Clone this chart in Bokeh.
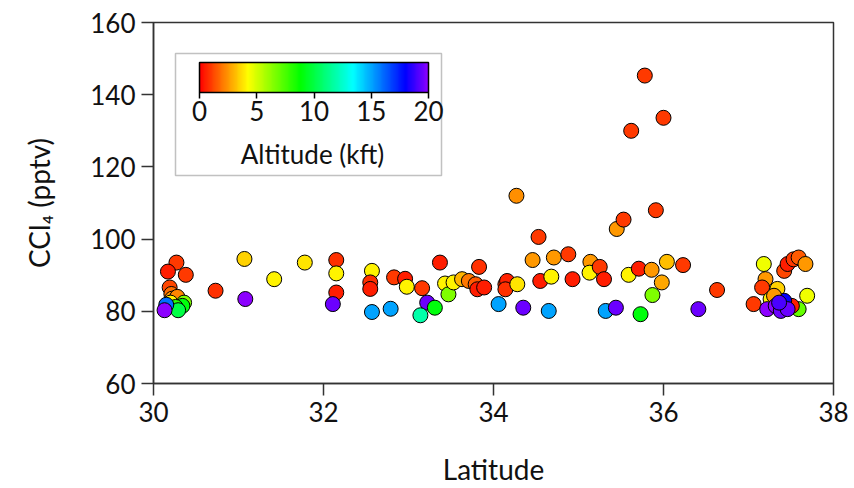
import numpy as np
from bokeh.plotting import figure
from bokeh.models import (ColumnDataSource, LinearColorMapper, ColorBar, FixedTicker,
                          BoxAnnotation, Label, Range1d)
from bokeh.embed import file_html
from bokeh.resources import INLINE

# ---------------- data ----------------
latitude = [
    30.27, 30.17, 30.38, 30.19, 30.21, 30.22, 30.28, 30.20, 30.36, 30.34, 30.26, 30.29, 30.15, 30.13,
    30.73, 31.07, 31.08, 31.42, 31.78, 32.15, 32.15, 32.15, 32.11, 32.57, 32.55, 32.55, 32.57, 32.79,
    32.83, 32.96, 32.98, 33.16, 33.22, 33.14, 33.31, 33.37, 33.43, 33.47, 33.53, 33.63, 33.71, 33.83,
    33.79, 33.81, 33.89, 34.14, 34.16, 34.14, 34.28, 34.06, 34.27, 34.35, 34.53, 34.46, 34.55, 34.65,
    34.68, 34.71, 34.88, 34.93, 35.14, 35.13, 35.25, 35.30, 35.32, 35.44, 35.45, 35.53, 35.59, 35.71,
    35.62, 35.78, 36.00, 35.91, 35.86, 36.04, 35.98, 35.87, 35.73, 36.23, 36.41, 36.63,
    37.18, 37.20, 37.16, 37.34, 37.06, 37.42, 37.46, 37.53, 37.59, 37.67, 37.69, 37.59, 37.51, 37.42,
    37.26, 37.30, 37.22, 37.32, 37.38, 37.46, 37.36,
]
ccl4 = [
    93.5, 91.0, 90.1, 86.6, 84.8, 83.5, 84.0, 82.4, 82.4, 81.5, 81.2, 80.3, 81.8, 80.3,
    85.7, 94.5, 83.4, 88.9, 93.5, 94.2, 90.5, 85.2, 82.0, 91.2, 88.0, 86.2, 79.8, 80.7,
    89.4, 89.0, 86.8, 86.4, 82.4, 78.9, 81.0, 93.5, 87.7, 84.7, 88.0, 88.9, 88.4, 92.3,
    87.5, 86.1, 86.6, 87.5, 88.4, 86.1, 87.5, 82.0, 112.0, 81.0, 100.6, 94.2, 88.4, 80.1,
    89.6, 94.9, 95.8, 88.9, 93.7, 90.7, 92.3, 88.9, 80.1, 81.0, 102.8, 105.4, 90.1, 91.8,
    130.0, 145.3, 133.6, 108.0, 91.5, 93.7, 88.0, 84.5, 79.2, 92.8, 80.6, 85.9,
    93.1, 88.9, 86.6, 86.2, 82.0, 91.2, 93.1, 94.4, 94.9, 93.1, 84.3, 80.6, 81.5, 82.9,
    83.4, 84.3, 80.6, 81.5, 80.1, 80.6, 82.4,
]
altitude = [
    1.0, 0.5, 1.0, 1.2, 1.8, 2.5, 2.2, 4.0, 6.5, 9.0, 8.0, 10.0, 16.0, 20.0,
    0.8, 3.5, 20.0, 4.0, 3.8, 0.8, 4.0, 0.5, 19.5, 4.0, 0.8, 0.5, 15.0, 15.0,
    1.0, 0.5, 4.0, 1.0, 19.5, 11.8, 9.0, 0.5, 4.0, 6.5, 4.0, 3.0, 2.0, 0.8,
    1.5, 0.5, 0.5, 1.0, 0.6, 0.8, 3.8, 15.0, 2.4, 19.5, 1.0, 2.5, 0.5, 15.0,
    4.0, 2.5, 1.0, 0.5, 2.5, 4.0, 1.0, 0.5, 15.0, 19.5, 2.5, 1.0, 4.0, 0.5,
    1.0, 1.0, 1.0, 1.0, 2.5, 3.2, 2.8, 6.5, 9.0, 1.0, 19.5, 1.0,
    4.5, 2.5, 1.0, 3.5, 1.0, 1.2, 0.5, 1.0, 1.5, 2.5, 4.5, 7.0, 0.5, 18.0,
    4.0, 2.5, 20.0, 20.0, 19.5, 19.5, 19.0,
]

x_ticks = [30, 32, 34, 36, 38]
y_ticks = [60, 80, 100, 120, 140, 160]
alt_ticks = [0, 5, 10, 15, 20]

# ---------------- rainbow palette (red -> yellow -> green -> cyan -> blue -> violet) ----------------
anchor_pos = [0.0, 0.21, 0.44, 0.67, 0.90, 1.0]
anchor_rgb = [(255, 0, 0), (255, 255, 0), (0, 255, 0), (0, 255, 255), (0, 0, 255), (140, 0, 255)]
t = np.linspace(0, 1, 256)
chan = [np.interp(t, anchor_pos, [c[i] for c in anchor_rgb]) for i in range(3)]
palette = ["#%02x%02x%02x" % (int(round(r)), int(round(g)), int(round(b)))
           for r, g, b in zip(*chan)]

FONT = "Lato"
TXT = "#111111"
LINE = "#333333"

mapper = LinearColorMapper(palette=palette, low=0, high=20)
src = ColumnDataSource(dict(lat=latitude, ccl4=ccl4, alt=altitude))

p = figure(width=854, height=488, x_range=Range1d(30, 38), y_range=Range1d(60, 160),
           output_backend="svg", toolbar_location=None,
           min_border_left=153, min_border_right=21, min_border_top=22, min_border_bottom=105)
p.xgrid.visible = False
p.ygrid.visible = False
p.outline_line_color = LINE
p.outline_line_width = 1.5
p.background_fill_color = "white"
p.border_fill_color = "white"

p.xaxis.ticker = FixedTicker(ticks=x_ticks)
p.yaxis.ticker = FixedTicker(ticks=y_ticks)
p.xaxis.axis_label = "Latitude"
p.yaxis.axis_label = "CCl\u2084 (pptv)"
for ax in (p.xaxis[0], p.yaxis[0]):
    ax.major_tick_out = 12
    ax.major_tick_in = 0
    ax.minor_tick_line_color = None
    ax.axis_line_color = LINE
    ax.axis_line_width = 1.5
    ax.major_tick_line_color = LINE
    ax.major_tick_line_width = 1.5
    ax.major_label_text_font = FONT
    ax.major_label_text_font_size = "26px"
    ax.major_label_text_color = TXT
    ax.axis_label_text_font = FONT
    ax.axis_label_text_font_size = "28px"
    ax.axis_label_text_font_style = "normal"
    ax.axis_label_text_color = TXT
p.xaxis.major_label_standoff = 6
p.xaxis.axis_label_standoff = 27
p.yaxis.major_label_standoff = 6
p.yaxis.axis_label_standoff = 31

p.scatter("lat", "ccl4", source=src, size=15,
          fill_color={"field": "alt", "transform": mapper},
          line_color="black", line_width=1)

# legend box with colour bar
box = BoxAnnotation(left=22, right=288, bottom=208, top=330,
                    left_units="screen", right_units="screen",
                    top_units="screen", bottom_units="screen",
                    fill_color="white", fill_alpha=1.0,
                    line_color=LINE, line_width=1.5)
p.add_layout(box)

cb = ColorBar(color_mapper=mapper, orientation="horizontal", location=(46, 260),
              width=229, height=30, padding=0, margin=0,
              ticker=FixedTicker(ticks=alt_ticks),
              major_tick_in=0, major_tick_out=6,
              major_tick_line_color="black", major_tick_line_width=1.5,
              bar_line_color="black", bar_line_width=1.5,
              border_line_color=None, background_fill_alpha=0,
              major_label_text_font=FONT, major_label_text_font_size="26px",
              major_label_text_color=TXT, label_standoff=2)
p.add_layout(cb)

p.add_layout(Label(x=159, y=230, x_units="screen", y_units="screen",
                   text="Altitude (kft)", text_align="center", text_baseline="middle",
                   text_font=FONT, text_font_size="26px", text_color=TXT))

open("out.html", "w").write(file_html(p, INLINE))
